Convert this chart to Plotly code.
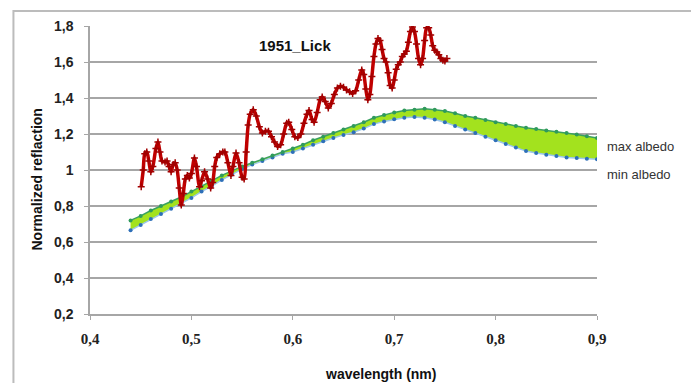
import plotly.graph_objects as go

# ---- data ----
wl_albedo = [0.44, 0.45, 0.46, 0.47, 0.48, 0.49, 0.50, 0.51, 0.52, 0.53, 0.54, 0.55,
             0.56, 0.57, 0.58, 0.59, 0.60, 0.61, 0.62, 0.63, 0.64, 0.65, 0.66, 0.67,
             0.68, 0.69, 0.70, 0.71, 0.72, 0.73, 0.74, 0.75, 0.76, 0.77, 0.78, 0.79,
             0.80, 0.81, 0.82, 0.83, 0.84, 0.85, 0.86, 0.87, 0.88, 0.89, 0.90]
max_albedo = [0.72, 0.745, 0.775, 0.80, 0.825, 0.85, 0.88, 0.91, 0.94, 0.97, 0.995, 1.02,
              1.04, 1.06, 1.08, 1.10, 1.12, 1.14, 1.165, 1.185, 1.205, 1.225, 1.245, 1.265,
              1.29, 1.305, 1.32, 1.33, 1.335, 1.34, 1.335, 1.328, 1.315, 1.30, 1.29, 1.278,
              1.265, 1.255, 1.245, 1.235, 1.228, 1.22, 1.213, 1.205, 1.197, 1.188, 1.178]
min_albedo = [0.665, 0.695, 0.728, 0.756, 0.785, 0.815, 0.845, 0.88, 0.91, 0.945, 0.975, 1.005,
              1.03, 1.05, 1.07, 1.09, 1.10, 1.12, 1.14, 1.16, 1.178, 1.195, 1.21, 1.23,
              1.255, 1.27, 1.282, 1.29, 1.294, 1.29, 1.28, 1.265, 1.245, 1.225, 1.205, 1.185,
              1.165, 1.145, 1.125, 1.105, 1.095, 1.085, 1.078, 1.07, 1.066, 1.063, 1.06]

wl_lick = [0.4505, 0.4525, 0.454, 0.456, 0.458, 0.460, 0.462, 0.465, 0.467, 0.469, 0.471,
           0.474, 0.476, 0.478, 0.480, 0.482, 0.484, 0.486, 0.488, 0.490, 0.492, 0.494,
           0.496, 0.498, 0.500, 0.503, 0.505, 0.508, 0.510, 0.513, 0.516, 0.519, 0.521,
           0.523, 0.525, 0.528, 0.531, 0.533, 0.536, 0.539, 0.541, 0.544, 0.547, 0.550,
           0.552, 0.554, 0.556, 0.558, 0.561, 0.564, 0.567, 0.570, 0.573, 0.576, 0.579,
           0.582, 0.585, 0.588, 0.591, 0.594, 0.596, 0.599, 0.602, 0.605, 0.608, 0.611,
           0.614, 0.616, 0.619, 0.621, 0.624, 0.627, 0.629, 0.632, 0.635, 0.638, 0.641,
           0.644, 0.647, 0.650, 0.653, 0.656, 0.659, 0.662, 0.665, 0.668, 0.670, 0.672,
           0.674, 0.676, 0.678, 0.680, 0.682, 0.684, 0.686, 0.688, 0.690, 0.692, 0.694,
           0.696, 0.698, 0.700, 0.702, 0.704, 0.706, 0.708, 0.710, 0.712, 0.714, 0.716,
           0.718, 0.720, 0.722, 0.724, 0.726, 0.728, 0.730, 0.732, 0.734, 0.736, 0.738,
           0.740, 0.742, 0.744, 0.746, 0.748, 0.750, 0.752]
refl_lick = [0.907, 1.00, 1.09, 1.10, 1.05, 0.99, 1.02, 1.12, 1.155, 1.10, 1.05,
             1.045, 1.05, 1.02, 0.99, 1.03, 1.04, 1.00, 0.90, 0.806, 0.87, 0.95,
             0.97, 0.955, 0.98, 1.067, 1.02, 0.907, 0.94, 0.99, 0.95, 0.90, 0.93,
             1.02, 1.07, 1.09, 1.10, 1.10, 1.04, 0.97, 1.02, 1.094, 1.04, 0.96,
             0.95, 1.10, 1.25, 1.31, 1.335, 1.30, 1.24, 1.205, 1.215, 1.215, 1.185,
             1.155, 1.13, 1.14, 1.20, 1.26, 1.265, 1.225, 1.185, 1.18, 1.20, 1.26,
             1.31, 1.33, 1.28, 1.265, 1.32, 1.39, 1.405, 1.38, 1.345, 1.37, 1.42,
             1.455, 1.465, 1.46, 1.445, 1.435, 1.425, 1.44, 1.50, 1.555, 1.53, 1.45,
             1.39, 1.42, 1.52, 1.63, 1.70, 1.73, 1.72, 1.67, 1.62, 1.60, 1.54,
             1.47, 1.455, 1.50, 1.56, 1.585, 1.60, 1.63, 1.645, 1.66, 1.71, 1.77,
             1.795, 1.77, 1.70, 1.62, 1.585, 1.62, 1.72, 1.79, 1.79, 1.75, 1.69,
             1.665, 1.655, 1.64, 1.62, 1.61, 1.605, 1.62]

x_ticks = [0.4, 0.5, 0.6, 0.7, 0.8, 0.9]
x_tick_text = ["0,4", "0,5", "0,6", "0,7", "0,8", "0,9"]
y_ticks = [0.2, 0.4, 0.6, 0.8, 1.0, 1.2, 1.4, 1.6, 1.8]
y_tick_text = ["0,2", "0,4", "0,6", "0,8", "1", "1,2", "1,4", "1,6", "1,8"]

# ---- figure ----
fig = go.Figure()

fig.add_trace(go.Scatter(
    x=wl_albedo, y=min_albedo, mode="lines+markers", name="min albedo",
    line=dict(color="#9cc8ea", width=1.5),
    marker=dict(color="#2e6fb8", size=4),
    showlegend=False))
fig.add_trace(go.Scatter(
    x=wl_albedo, y=max_albedo, mode="lines+markers", name="max albedo",
    fill="tonexty", fillcolor="rgb(163,226,30)",
    line=dict(color="#3aa060", width=1.5),
    marker=dict(color="#2f9a5c", size=4),
    showlegend=False))
fig.add_trace(go.Scatter(
    x=wl_lick, y=refl_lick, mode="lines+markers", name="1951_Lick",
    line=dict(color="#c00000", width=3.5, shape="spline", smoothing=0.8),
    marker=dict(color="#a00000", size=5, symbol="cross-thin",
                line=dict(color="#a00000", width=1.5)),
    showlegend=False))

grid = "#a6a6a6"
fig.update_layout(
    width=691, height=383,
    margin=dict(l=90, r=94, t=26, b=69),
    paper_bgcolor="white", plot_bgcolor="white",
    font=dict(family="Liberation Sans, Arial, sans-serif", color="#000000"),
    xaxis=dict(range=[0.4, 0.9], tickvals=x_ticks, ticktext=x_tick_text,
               automargin=False,
               showgrid=False, zeroline=False, showline=True, linecolor=grid,
               linewidth=1.5, ticks="outside", ticklen=4, tickcolor=grid,
               ticklabelstandoff=6,
               tickfont=dict(family="Liberation Serif, Times New Roman, serif",
                             size=15, weight="bold", color="#222")),
    yaxis=dict(range=[0.2, 1.8], tickvals=y_ticks, ticktext=y_tick_text,
               automargin=False,
               showgrid=True, gridcolor=grid, gridwidth=1.5, zeroline=False,
               showline=True, linecolor=grid, linewidth=1.5,
               ticks="outside", ticklen=4, tickcolor=grid,
               ticklabelstandoff=8,
               tickfont=dict(size=14, weight="bold", color="#222")),
)

# axis titles
fig.add_annotation(xref="paper", yref="paper", x=0.572, y=-0.208,
                   xanchor="center", yanchor="middle",
                   text="wavelength (nm)", showarrow=False,
                   font=dict(size=14, weight="bold", color="#111"))
fig.add_annotation(xref="paper", yref="paper", x=-0.104, y=0.468,
                   xanchor="center", yanchor="middle",
                   text="Normalized reflaction", showarrow=False, textangle=-90,
                   font=dict(size=14, weight="bold", color="#111"))

fig.add_annotation(x=0.602, y=1.694, text="1951_Lick", showarrow=False,
                   xanchor="center", yanchor="middle",
                   font=dict(size=15, weight="bold", color="#111"))
fig.add_annotation(xref="paper", yref="paper", x=1.016, y=0.580,
                   text="max albedo", showarrow=False, xanchor="left",
                   yanchor="middle", font=dict(size=13, color="#333"))
fig.add_annotation(xref="paper", yref="paper", x=1.016, y=0.483,
                   text="min albedo", showarrow=False, xanchor="left",
                   yanchor="middle", font=dict(size=13, color="#333"))

# outer chart frame
fig.add_shape(type="rect", xref="paper", yref="paper",
              x0=-0.151, x1=1.3, y0=-0.4, y1=1.052,
              line=dict(color="#bcbcbc", width=2), layer="below")

fig.write_html("out.html")
